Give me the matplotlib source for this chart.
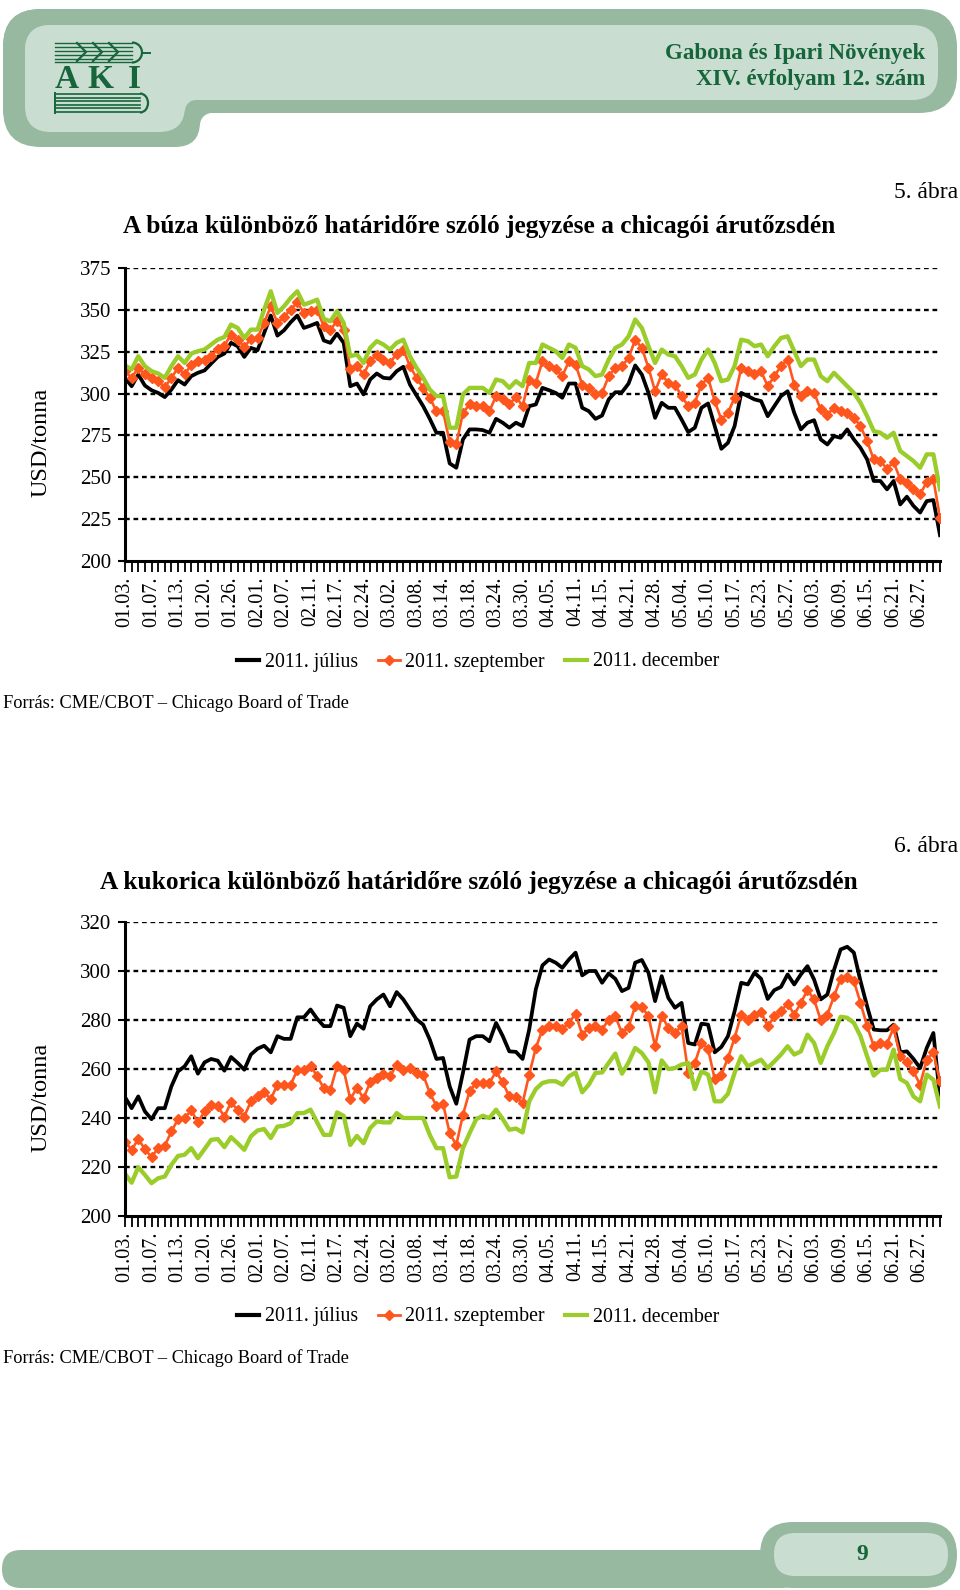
import matplotlib
matplotlib.use("Agg")
import matplotlib.pyplot as plt
from matplotlib.patches import FancyBboxPatch, Arc, Circle, Rectangle
from matplotlib.lines import Line2D
import numpy as np

# ---------------- data ----------------
date_labels = ["01.03.", "01.07.", "01.13.", "01.20.", "01.26.", "02.01.", "02.07.", "02.11.",
               "02.17.", "02.24.", "03.02.", "03.08.", "03.14.", "03.18.", "03.24.", "03.30.",
               "04.05.", "04.11.", "04.15.", "04.21.", "04.28.", "05.04.", "05.10.", "05.17.",
               "05.23.", "05.27.", "06.03.", "06.09.", "06.15.", "06.21.", "06.27."]
series_names = ["2011. július", "2011. szeptember", "2011. december"]

wheat_jul = [309.4, 304.4, 311.4, 304.8, 302.0, 300.4, 297.9, 302.4, 308.0, 305.4,
             310.4, 312.4, 313.8, 317.9, 321.9, 323.9, 330.3, 328.3, 321.9, 327.3,
             325.9, 336.2, 346.6, 334.6, 337.8, 342.6, 346.6, 339.2, 340.6, 342.2,
             331.7, 330.3, 335.8, 330.3, 304.4, 306.0, 299.5, 308.4, 312.0, 309.4,
             309.0, 313.4, 316.0, 305.4, 298.9, 292.5, 284.9, 276.6, 276.6, 258.3,
             255.7, 272.6, 278.6, 278.6, 278.2, 276.6, 284.9, 282.6, 279.6, 282.6,
             280.6, 292.5, 293.5, 303.4, 302.0, 300.4, 297.5, 306.0, 306.0, 291.5,
             289.5, 284.9, 286.9, 296.5, 300.8, 300.8, 306.0, 316.8, 311.4, 300.4,
             285.5, 294.5, 291.5, 291.5, 284.5, 277.0, 279.6, 291.5, 294.1, 280.6,
             267.0, 270.6, 280.6, 300.4, 298.5, 296.5, 295.5, 286.5, 292.5, 298.5,
             301.4, 288.5, 278.6, 282.6, 284.1, 272.6, 269.6, 274.6, 273.6, 278.6,
             272.6, 267.6, 260.7, 247.8, 247.8, 242.8, 247.8, 233.8, 238.4, 232.9,
             228.9, 235.8, 236.4, 215.4]
wheat_sep = [313.4, 309.4, 315.4, 311.4, 309.4, 307.4, 303.8, 309.4, 315.4, 311.4,
             317.3, 319.3, 320.3, 322.3, 326.7, 328.7, 335.2, 332.2, 327.9, 332.7,
             333.2, 342.2, 352.1, 342.2, 345.8, 350.1, 354.5, 348.2, 349.2, 350.1,
             340.2, 338.2, 343.2, 338.2, 314.4, 316.4, 311.4, 319.3, 323.3, 320.3,
             318.3, 323.9, 326.3, 316.4, 309.4, 303.4, 297.5, 289.5, 289.5, 271.0,
             269.6, 288.5, 293.5, 292.5, 292.5, 289.5, 298.5, 296.5, 293.5, 298.1,
             292.5, 308.4, 306.4, 319.3, 316.4, 314.4, 310.4, 319.3, 317.3, 305.4,
             303.4, 299.5, 300.4, 310.4, 315.4, 316.4, 321.3, 332.2, 327.3, 315.4,
             301.4, 311.4, 306.4, 305.4, 298.5, 292.5, 294.5, 305.4, 309.4, 295.5,
             284.5, 288.5, 297.5, 315.4, 313.4, 311.4, 313.4, 304.4, 310.4, 316.4,
             320.3, 305.4, 298.5, 301.4, 300.4, 290.5, 287.5, 291.5, 289.5, 288.5,
             285.5, 280.6, 271.6, 260.7, 259.7, 255.1, 259.1, 248.8, 246.8, 242.8,
             239.8, 247.2, 248.8, 225.9]
wheat_dec = [316.8, 314.4, 322.3, 316.4, 313.4, 312.0, 309.4, 316.4, 322.3, 318.3,
             323.9, 325.3, 326.3, 329.3, 332.2, 333.8, 341.2, 339.2, 333.2, 338.2,
             338.2, 350.1, 361.1, 348.2, 352.1, 357.1, 361.1, 353.1, 354.5, 356.1,
             344.6, 343.2, 349.2, 342.2, 322.3, 323.3, 318.3, 327.3, 331.3, 329.3,
             326.3, 330.3, 332.2, 322.3, 315.4, 309.4, 302.4, 298.5, 298.5, 279.6,
             279.6, 299.5, 303.4, 303.4, 303.4, 300.4, 308.4, 307.4, 303.4, 307.4,
             304.4, 318.3, 318.3, 329.3, 327.3, 325.3, 321.3, 329.3, 327.3, 316.4,
             314.4, 310.4, 311.4, 320.3, 327.3, 329.3, 334.2, 344.2, 339.2, 328.3,
             318.3, 326.3, 323.3, 322.3, 316.4, 309.4, 311.4, 320.3, 326.3, 318.3,
             307.4, 308.4, 316.4, 332.2, 331.3, 328.3, 329.3, 322.3, 328.3, 333.2,
             334.2, 325.3, 316.4, 320.3, 320.3, 310.4, 307.4, 312.4, 308.4, 304.4,
             300.4, 294.5, 286.5, 277.6, 276.6, 273.6, 276.6, 265.7, 262.7, 259.7,
             255.7, 263.7, 263.7, 242.8]

corn_jul = [248.5, 244.0, 248.8, 242.7, 239.5, 244.0, 244.0, 252.9, 259.0, 261.1,
            265.2, 258.1, 262.7, 264.1, 263.4, 259.3, 264.9, 262.5, 259.7, 265.9,
            268.3, 269.5, 266.8, 273.4, 272.3, 272.3, 281.1, 281.1, 284.3, 280.5,
            277.5, 277.5, 285.9, 285.0, 273.4, 278.5, 276.4, 285.6, 288.4, 290.4,
            285.6, 291.4, 288.4, 284.3, 280.2, 278.1, 272.0, 264.1, 264.5, 252.9,
            245.8, 258.4, 272.0, 273.4, 273.4, 271.3, 278.8, 273.5, 267.2, 267.0,
            264.1, 276.1, 292.5, 302.3, 304.7, 303.4, 301.3, 304.7, 307.5, 298.2,
            300.0, 300.0, 295.2, 299.0, 296.8, 291.8, 293.1, 303.4, 304.5, 299.3,
            287.7, 297.9, 289.0, 285.0, 287.0, 270.6, 270.0, 278.5, 278.1, 266.8,
            269.0, 273.4, 283.6, 295.2, 294.5, 299.3, 296.8, 288.6, 292.2, 293.5,
            298.6, 294.5, 298.6, 302.0, 296.5, 288.4, 290.4, 300.4, 308.8, 309.9,
            307.5, 295.9, 285.6, 276.1, 275.8, 275.8, 278.1, 266.8, 267.2, 264.1,
            260.4, 268.6, 274.7, 248.1]
corn_sep = [230.4, 227.0, 231.4, 227.3, 224.0, 227.7, 228.6, 234.5, 239.5, 240.0,
            243.1, 238.2, 242.7, 245.4, 244.7, 240.6, 246.4, 243.4, 240.6, 246.8,
            249.1, 250.5, 247.7, 253.6, 253.6, 253.6, 259.5, 259.5, 261.4, 257.0,
            252.2, 251.5, 261.1, 259.7, 247.7, 252.2, 248.1, 254.5, 256.3, 258.1,
            257.0, 261.8, 259.7, 260.4, 258.4, 257.7, 250.2, 245.0, 245.8, 233.8,
            229.0, 241.3, 250.9, 254.3, 254.3, 254.3, 259.0, 254.5, 248.8, 248.5,
            246.1, 257.7, 268.6, 276.1, 277.5, 277.5, 276.4, 278.8, 282.6, 274.0,
            276.8, 277.7, 276.1, 280.2, 281.5, 274.7, 277.2, 285.6, 285.4, 281.5,
            269.3, 281.8, 276.8, 274.7, 277.5, 258.4, 262.5, 270.6, 268.2, 255.9,
            257.7, 264.5, 272.7, 282.2, 280.2, 282.2, 283.2, 277.5, 281.5, 283.6,
            286.7, 282.2, 287.0, 292.2, 288.4, 279.9, 282.2, 289.7, 296.8, 297.6,
            295.9, 287.0, 277.5, 269.3, 270.6, 270.4, 276.8, 265.2, 262.7, 259.0,
            253.6, 263.8, 266.8, 255.0]
corn_dec = [217.2, 213.6, 219.9, 216.8, 213.4, 215.4, 216.1, 220.9, 224.5, 225.0,
            227.7, 223.6, 227.3, 231.1, 231.4, 228.1, 232.2, 229.7, 227.0, 232.5,
            234.9, 235.5, 231.8, 236.5, 236.8, 237.9, 242.0, 242.0, 243.4, 238.2,
            233.1, 233.1, 242.3, 240.9, 229.0, 232.7, 229.7, 235.9, 238.6, 238.2,
            238.2, 242.0, 240.0, 240.0, 240.0, 240.0, 233.1, 227.7, 227.7, 215.8,
            216.1, 227.7, 233.8, 239.5, 240.9, 240.0, 243.4, 239.6, 235.2, 235.7,
            234.1, 246.8, 251.8, 254.3, 255.0, 255.0, 253.6, 257.0, 258.6, 250.5,
            253.6, 258.4, 258.6, 262.5, 266.3, 258.1, 262.7, 268.6, 266.5, 262.7,
            250.5, 263.5, 260.0, 260.4, 261.8, 262.5, 251.8, 259.0, 257.7, 246.8,
            246.8, 249.9, 258.4, 265.2, 261.1, 262.5, 263.8, 260.4, 263.1, 265.9,
            269.3, 265.9, 267.2, 274.0, 270.6, 262.5, 269.3, 274.7, 281.3, 280.9,
            278.8, 273.4, 265.2, 257.3, 259.7, 259.7, 267.9, 255.9, 254.3, 248.8,
            246.8, 257.7, 255.6, 244.7]

wheat_yticks = [200, 225, 250, 275, 300, 325, 350, 375]
corn_yticks = [200, 220, 240, 260, 280, 300, 320]

# ---------------- style ----------------
SERIF = ["Liberation Serif", "DejaVu Serif"]
plt.rcParams["font.family"] = SERIF
DARKGREEN = "#17653a"
OUTER = "#97b99f"
INNER = "#c9ddd0"
C_JUL = "black"
C_SEP = "#ff561e"
C_DEC = "#9acc2a"

W, H = 960, 1590
fig = plt.figure(figsize=(W / 100, H / 100), dpi=100)
fig.patch.set_facecolor("white")


def fx(x):
    return x / W


def fy(y):
    return 1 - y / H


# background / decoration axes in pixel coordinates
bg = fig.add_axes([0, 0, 1, 1])
bg.set_xlim(0, W)
bg.set_ylim(H, 0)
bg.axis("off")


def rbox(x0, y0, x1, y1, r, color, z=1):
    p = FancyBboxPatch((x0, y0), x1 - x0, y1 - y0,
                       boxstyle=f"round,pad=0,rounding_size={r}",
                       facecolor=color, edgecolor="none", zorder=z)
    bg.add_patch(p)


# header banner (outer ring + inner panel, with concave fillets at the tab joint)
rbox(3, 9, 957, 113, 38, OUTER)
rbox(3, 9, 200, 147, 38, OUTER)
rbox(100, 9, 200, 147, 25, OUTER)
bg.add_patch(Rectangle((199, 112), 13, 13, facecolor=OUTER, edgecolor="none", zorder=1))
bg.add_patch(Circle((212, 125), 12, facecolor="white", edgecolor="none", zorder=1.5))
rbox(25, 25, 938, 100, 26, INNER, 2)
rbox(25, 25, 185, 132, 26, INNER, 2)
bg.add_patch(Rectangle((184, 99), 12, 12, facecolor=INNER, edgecolor="none", zorder=2))
fillet = Circle((196, 111), 11, facecolor=OUTER, edgecolor="none", zorder=2.5)
bg.add_patch(fillet)
fillet.set_clip_path(Rectangle((184, 99), 12, 12, transform=bg.transData))

# AKI logo - wheat ear
for yy in [43, 47, 51, 55, 59, 62]:
    bg.plot([55, 132], [yy, yy], color=DARKGREEN, lw=1.0, zorder=3)
for cx in [86, 102, 118]:
    bg.plot([cx - 9, cx, cx - 9], [43, 52, 61], color=DARKGREEN, lw=1.6, zorder=3)
bg.add_patch(Arc((132, 52.5), 20, 20, theta1=270, theta2=90, color=DARKGREEN, lw=1.6, zorder=3))
bg.plot([142, 150], [52.5, 52.5], color=DARKGREEN, lw=1.4, zorder=3)
# AKI letters
for letter, lx in zip(["A", "K", "I"], [67, 100, 134]):
    bg.text(lx, 79, letter, color=DARKGREEN, fontsize=24, fontweight="bold",
            ha="center", va="center", zorder=3)
# book
for yy in [94, 97.5, 101, 104.5, 108, 111.5]:
    bg.plot([55, 140], [yy, yy], color=DARKGREEN, lw=1.2, zorder=3)
bg.add_patch(Arc((140, 103), 16, 19, theta1=270, theta2=90, color=DARKGREEN, lw=1.6, zorder=3))
bg.plot([55, 55], [93, 113], color=DARKGREEN, lw=1.4, zorder=3)

bg.text(925, 54, "Gabona és Ipari Növények", color=DARKGREEN, fontsize=16.5,
        fontweight="bold", ha="right", va="center", zorder=3)
bg.text(925, 80, "XIV. évfolyam 12. szám", color=DARKGREEN, fontsize=16.5,
        fontweight="bold", ha="right", va="center", zorder=3)

# footer
rbox(2, 1550, 800, 1588, 19, OUTER)
rbox(760, 1522, 957, 1588, 33, OUTER)
rbox(774, 1533, 948, 1576, 21, INNER, 2)
bg.text(862, 1554, "9", color=DARKGREEN, fontsize=17, fontweight="bold",
        ha="center", va="center", zorder=3)


# ---------------- charts ----------------
def make_chart(top_px, bottom_px, jul, sep, dec, yticks):
    left_px, right_px = 125, 940
    ax = fig.add_axes([fx(left_px), fy(bottom_px), (right_px - left_px) / W,
                       (bottom_px - top_px) / H])
    x = np.arange(len(jul))
    ax.set_axisbelow(True)
    for yv in yticks[1:]:
        ax.axhline(yv, color="black", lw=1.7, linestyle=(0, (2.0, 1.6)), zorder=0)
    ax.plot(x, jul, color=C_JUL, lw=2.7, zorder=3, solid_joinstyle="round")
    ax.plot(x, sep, color=C_SEP, lw=1.9, marker="D", ms=4.6, mec=C_SEP, mfc=C_SEP,
            zorder=4, solid_joinstyle="round")
    ax.plot(x, dec, color=C_DEC, lw=3.1, zorder=5, solid_joinstyle="round")
    ax.set_xlim(0, len(jul) - 1)
    ax.set_ylim(yticks[0], yticks[-1])
    for s in ["top", "right"]:
        ax.spines[s].set_visible(False)
    for s in ["left", "bottom"]:
        ax.spines[s].set_linewidth(2.2)
        ax.spines[s].set_zorder(6)
    ax.set_yticks(yticks)
    ax.set_yticklabels([str(v) for v in yticks], fontsize=15)
    ax.tick_params(axis="y", direction="out", length=5, width=1.5, pad=5)
    ax.set_xticks(x)
    labels = [date_labels[i // 4] if i % 4 == 0 and i // 4 < len(date_labels) else ""
              for i in x]
    ax.set_xticklabels(labels, rotation=90, fontsize=14.5)
    ax.tick_params(axis="x", direction="out", length=8, width=1.3, pad=3)
    ax.patch.set_alpha(0)
    return ax


make_chart(268, 561, wheat_jul, wheat_sep, wheat_dec, wheat_yticks)
make_chart(922, 1216, corn_jul, corn_sep, corn_dec, corn_yticks)

# texts chart 1
fig.text(fx(958), fy(192), "5. ábra", fontsize=17, ha="right", va="center")
fig.text(fx(479), fy(227), "A búza különböző határidőre szóló jegyzése a chicagói árutőzsdén",
         fontsize=18.3, fontweight="bold", ha="center", va="center")
fig.text(fx(41), fy(442), "USD/tonna", fontsize=17.5, rotation=90, ha="center", va="center")
fig.text(fx(3), fy(703), "Forrás: CME/CBOT – Chicago Board of Trade", fontsize=13.2,
         ha="left", va="center")

# texts chart 2
fig.text(fx(958), fy(847), "6. ábra", fontsize=17, ha="right", va="center")
fig.text(fx(479), fy(882), "A kukorica különböző határidőre szóló jegyzése a chicagói árutőzsdén",
         fontsize=18.3, fontweight="bold", ha="center", va="center")
fig.text(fx(41), fy(1097), "USD/tonna", fontsize=17.5, rotation=90, ha="center", va="center")
fig.text(fx(3), fy(1358), "Forrás: CME/CBOT – Chicago Board of Trade", fontsize=13.2,
         ha="left", va="center")

handles = [Line2D([], [], color=C_JUL, lw=3),
           Line2D([], [], color=C_SEP, lw=2, marker="D", ms=5),
           Line2D([], [], color=C_DEC, lw=3)]
for ly in [662, 1317]:
    fig.legend(handles, series_names, loc="center", bbox_to_anchor=(fx(478), fy(ly)),
               ncol=3, frameon=False, fontsize=14.3, handlelength=1.1, handletextpad=0.3,
               columnspacing=1.0)

fig.savefig("out.png", dpi=100, facecolor="white")
